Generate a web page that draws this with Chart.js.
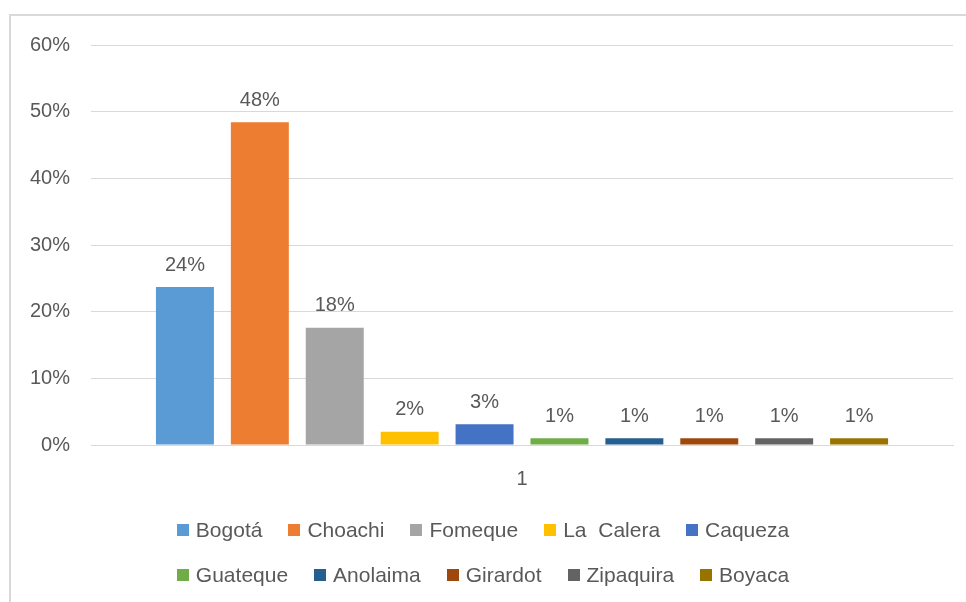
<!DOCTYPE html>
<html>
<head>
<meta charset="utf-8">
<script src="https://cdn.jsdelivr.net/npm/chart.js@4.4.1/dist/chart.umd.min.js"></script>
<style>
  html, body { margin: 0; padding: 0; background: #ffffff; }
  #wrap { position: relative; width: 966px; height: 602px; overflow: hidden; font-family: "Liberation Sans", Arial, sans-serif; }
  #frame { position: absolute; left: 9px; top: 14px; width: 1000px; height: 700px; border-left: 2px solid #d9d9d9; border-top: 2px solid #d9d9d9; box-sizing: border-box; }
  #c { position: absolute; left: 0; top: 0; }
  #legend { position: absolute; left: 0; top: 507px; width: 966px; }
  .row { display: flex; justify-content: center; height: 45px; align-items: center; }
  .item { display: flex; align-items: center; margin: 0 13px; color: #595959; font-size: 21px; white-space: pre; }
  .box { width: 12px; height: 12px; margin-right: 7px; }
</style>
</head>
<body>
<div id="wrap">
  <div id="frame"></div>
  <canvas id="c" width="966" height="602"></canvas>
  <div id="legend"></div>
</div>
<script>
const categories = ["1"];
const seriesNames = ["Bogotá", "Choachi", "Fomeque", "La  Calera", "Caqueza", "Guateque", "Anolaima", "Girardot", "Zipaquira", "Boyaca"];
const seriesValues = [0.237, 0.484, 0.176, 0.020, 0.031, 0.010, 0.010, 0.010, 0.010, 0.010];
const seriesColors = ["#5B9BD5", "#ED7D31", "#A5A5A5", "#FFC000", "#4472C4", "#70AD47", "#255E91", "#9E480E", "#636363", "#997300"];
const yTicks = [0, 0.1, 0.2, 0.3, 0.4, 0.5, 0.6];

const datasets = seriesNames.map((name, i) => ({
  label: name,
  data: [seriesValues[i]],
  backgroundColor: seriesColors[i],
  borderWidth: 0,
  categoryPercentage: 0.869,
  barPercentage: 0.774
}));

const valueLabels = {
  id: 'valueLabels',
  afterDatasetsDraw(chart) {
    const ctx = chart.ctx;
    ctx.save();
    ctx.font = '20px "Liberation Sans", Arial, sans-serif';
    ctx.fillStyle = '#595959';
    ctx.textAlign = 'center';
    ctx.textBaseline = 'bottom';
    chart.data.datasets.forEach((ds, i) => {
      const meta = chart.getDatasetMeta(i);
      meta.data.forEach((bar, j) => {
        const v = ds.data[j];
        ctx.fillText(Math.round(v * 100) + '%', bar.x, bar.y - 12);
      });
    });
    ctx.restore();
  }
};

new Chart(document.getElementById('c'), {
  type: 'bar',
  data: { labels: categories, datasets },
  options: {
    responsive: false,
    animation: false,
    layout: { padding: { top: 45, left: 9, right: 13, bottom: 97 } },
    plugins: { legend: { display: false }, tooltip: { enabled: false } },
    scales: {
      x: {
        grid: { display: false },
        border: { display: true, color: '#d9d9d9', width: 1 },
        ticks: { color: '#595959', font: { size: 20, family: '"Liberation Sans", Arial, sans-serif' }, padding: 14 }
      },
      y: {
        min: yTicks[0],
        max: yTicks[yTicks.length - 1],
        afterBuildTicks(scale) { scale.ticks = yTicks.map(v => ({ value: v })); },
        grid: { color: '#d9d9d9', lineWidth: 1, drawTicks: false },
        border: { display: false },
        ticks: {
          color: '#595959',
          font: { size: 20, family: '"Liberation Sans", Arial, sans-serif' },
          padding: 21,
          callback: v => Math.round(v * 100) + '%'
        }
      }
    }
  },
  plugins: [valueLabels]
});

// legend (two rows of five, as in the reference)
const legendEl = document.getElementById('legend');
[[0, 5], [5, 10]].forEach(([a, b]) => {
  const row = document.createElement('div');
  row.className = 'row';
  for (let i = a; i < b; i++) {
    const it = document.createElement('div');
    it.className = 'item';
    const bx = document.createElement('span');
    bx.className = 'box';
    bx.style.background = seriesColors[i];
    it.appendChild(bx);
    it.appendChild(document.createTextNode(seriesNames[i]));
    row.appendChild(it);
  }
  legendEl.appendChild(row);
});
</script>
</body>
</html>
